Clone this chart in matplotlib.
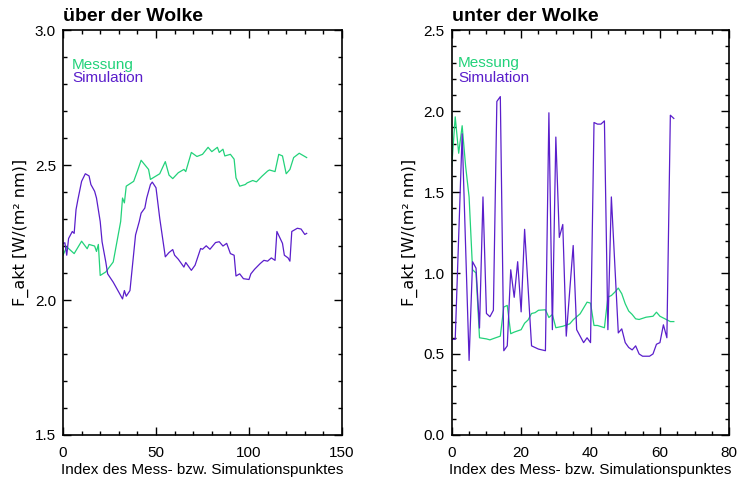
import numpy as np
import matplotlib
matplotlib.use("Agg")
import matplotlib.pyplot as plt
from matplotlib.ticker import MultipleLocator, FormatStrFormatter

# --- über der Wolke ---
mess1_x = [0, 2, 6, 10, 13, 14, 17, 18, 19, 20, 23, 27, 31, 32, 33, 34, 38, 40, 42, 46,
           47, 52, 55, 57, 59, 62, 65, 66, 69, 72, 75, 78, 80, 83, 84, 86, 87, 90, 92, 93,
           95, 98, 99, 102, 104, 107, 110, 111, 114, 116, 118, 120, 122, 124, 127, 131]
mess1_y = [2.166, 2.197, 2.172, 2.218, 2.19, 2.206, 2.20, 2.18, 2.206, 2.091, 2.104, 2.141,
           2.291, 2.378, 2.36, 2.422, 2.44, 2.478, 2.518, 2.484, 2.447, 2.468, 2.513, 2.463,
           2.45, 2.472, 2.484, 2.476, 2.547, 2.532, 2.54, 2.566, 2.55, 2.566, 2.547, 2.559,
           2.534, 2.54, 2.522, 2.453, 2.422, 2.428, 2.434, 2.443, 2.438, 2.459, 2.478, 2.482,
           2.476, 2.54, 2.534, 2.468, 2.484, 2.528, 2.544, 2.528]

sim1_x = [0, 1, 2, 3, 5, 6, 7, 8, 10, 12, 14, 15, 17, 18, 20, 21, 23, 24, 27, 30, 32, 33,
          34, 36, 37, 39, 41, 42, 44, 45, 47, 48, 50, 52, 55, 57, 59, 60, 62, 65, 66, 69,
          71, 74, 75, 77, 79, 82, 84, 86, 88, 90, 92, 93, 95, 97, 100, 101, 103, 106, 108,
          110, 112, 114, 115, 118, 119, 121, 122, 123, 126, 128, 130, 131]
sim1_y = [2.21, 2.212, 2.166, 2.228, 2.254, 2.247, 2.335, 2.372, 2.44, 2.468, 2.46, 2.428,
          2.403, 2.378, 2.291, 2.216, 2.141, 2.097, 2.066, 2.029, 2.004, 2.035, 2.014, 2.035,
          2.104, 2.241, 2.291, 2.322, 2.341, 2.378, 2.428, 2.437, 2.416, 2.303, 2.16, 2.176,
          2.187, 2.166, 2.151, 2.122, 2.139, 2.11, 2.129, 2.191, 2.188, 2.201, 2.188, 2.213,
          2.216, 2.2, 2.21, 2.172, 2.166, 2.089, 2.097, 2.079, 2.076, 2.097, 2.114, 2.135,
          2.147, 2.144, 2.156, 2.147, 2.254, 2.21, 2.166, 2.156, 2.144, 2.254, 2.266, 2.263,
          2.243, 2.247]

# --- unter der Wolke ---
mess2_x = [0, 1, 2, 3, 4, 5, 6, 7, 8, 10, 11, 12, 14, 15, 16, 17, 18, 20, 21, 22, 23, 24,
           25, 27, 28, 29, 30, 32, 34, 35, 37, 39, 40, 41, 42, 44, 45, 46, 47, 48, 49, 50,
           51, 52, 53, 54, 56, 58, 59, 60, 62, 63, 64]
mess2_y = [1.66, 1.965, 1.74, 1.91, 1.66, 1.47, 1.02, 1.00, 0.60, 0.593, 0.587, 0.595,
           0.61, 0.79, 0.80, 0.625, 0.635, 0.65, 0.69, 0.71, 0.75, 0.755, 0.77, 0.773, 0.725,
           0.744, 0.662, 0.671, 0.686, 0.711, 0.748, 0.82, 0.814, 0.676, 0.676, 0.662, 0.851,
           0.861, 0.882, 0.907, 0.872, 0.81, 0.765, 0.744, 0.717, 0.713, 0.727, 0.733, 0.758,
           0.733, 0.711, 0.70, 0.70]

sim2_x = [0, 1, 3, 5, 6, 7, 8, 9, 10, 11, 12, 13, 14, 15, 16, 17, 18, 19, 20, 21, 23, 25,
          27, 28, 29, 30, 31, 32, 33, 35, 36, 37, 38, 39, 40, 41, 42, 43, 44, 45, 46, 48,
          49, 50, 51, 52, 53, 54, 55, 57, 58, 59, 60, 61, 62, 63, 64]
sim2_y = [0.59, 0.59, 1.86, 0.46, 1.07, 1.03, 0.66, 1.47, 0.75, 0.73, 0.77, 2.06, 2.09,
          0.52, 0.55, 1.02, 0.85, 1.07, 0.76, 1.27, 0.55, 0.53, 0.52, 1.99, 0.65, 1.84,
          1.22, 1.30, 0.61, 1.17, 0.65, 0.61, 0.57, 0.60, 0.57, 1.93, 1.92, 1.92, 1.94,
          0.65, 1.47, 0.63, 0.655, 0.57, 0.54, 0.525, 0.55, 0.50, 0.486, 0.486, 0.50, 0.56,
          0.57, 0.68, 0.60, 1.975, 1.955]

GREEN = '#22d27a'
PURPLE = '#5a1ecb'

plt.rcParams['font.family'] = ['Liberation Sans', 'DejaVu Sans']

fig = plt.figure(figsize=(7.43, 4.80), dpi=100)
ax1 = fig.add_axes([0.0848, 0.094, 0.3755, 0.843])
ax2 = fig.add_axes([0.608, 0.094, 0.3736, 0.843])


def style(ax, xmax, xmaj, xmin, ymin, ymax):
    ax.set_xlim(0, xmax)
    ax.set_ylim(ymin, ymax)
    ax.xaxis.set_major_locator(MultipleLocator(xmaj))
    ax.xaxis.set_minor_locator(MultipleLocator(xmin))
    ax.yaxis.set_major_locator(MultipleLocator(0.5))
    ax.yaxis.set_minor_locator(MultipleLocator(0.1))
    ax.yaxis.set_major_formatter(FormatStrFormatter('%.1f'))
    ax.tick_params(which='both', direction='in', top=True, right=True,
                   labelsize=11, width=1.0)
    ax.tick_params(axis='x', which='major', pad=8)
    ax.tick_params(axis='y', which='major', pad=5)
    ax.tick_params(which='major', length=6)
    ax.tick_params(which='minor', length=3)
    for s in ax.spines.values():
        s.set_linewidth(1.2)
    ax.set_xlabel('Index des Mess- bzw. Simulationspunktes', fontsize=11, labelpad=2)
    ax.set_ylabel('F_akt [W/(m² nm)]', fontsize=11.5, labelpad=4,
                  family=['DejaVu Sans'])


ax1.plot(mess1_x, mess1_y, color=GREEN, lw=0.9)
ax1.plot(sim1_x, sim1_y, color=PURPLE, lw=0.9)
style(ax1, 150, 50, 10, 1.5, 3.0)
ax1.set_title('über der Wolke', loc='left', fontweight='bold', fontsize=14, pad=7)
ax1.text(0.032, 0.915, 'Messung', color=GREEN, transform=ax1.transAxes,
         fontsize=11, va='center')
ax1.text(0.032, 0.881, 'Simulation', color=PURPLE, transform=ax1.transAxes,
         fontsize=11, va='center')

ax2.plot(mess2_x, mess2_y, color=GREEN, lw=0.9)
ax2.plot(sim2_x, sim2_y, color=PURPLE, lw=0.9)
style(ax2, 80, 20, 5, 0.0, 2.5)
ax2.set_title('unter der Wolke', loc='left', fontweight='bold', fontsize=14, pad=7)
ax2.text(0.023, 0.918, 'Messung', color=GREEN, transform=ax2.transAxes,
         fontsize=11, va='center')
ax2.text(0.023, 0.881, 'Simulation', color=PURPLE, transform=ax2.transAxes,
         fontsize=11, va='center')

fig.savefig('out.png', dpi=100)
